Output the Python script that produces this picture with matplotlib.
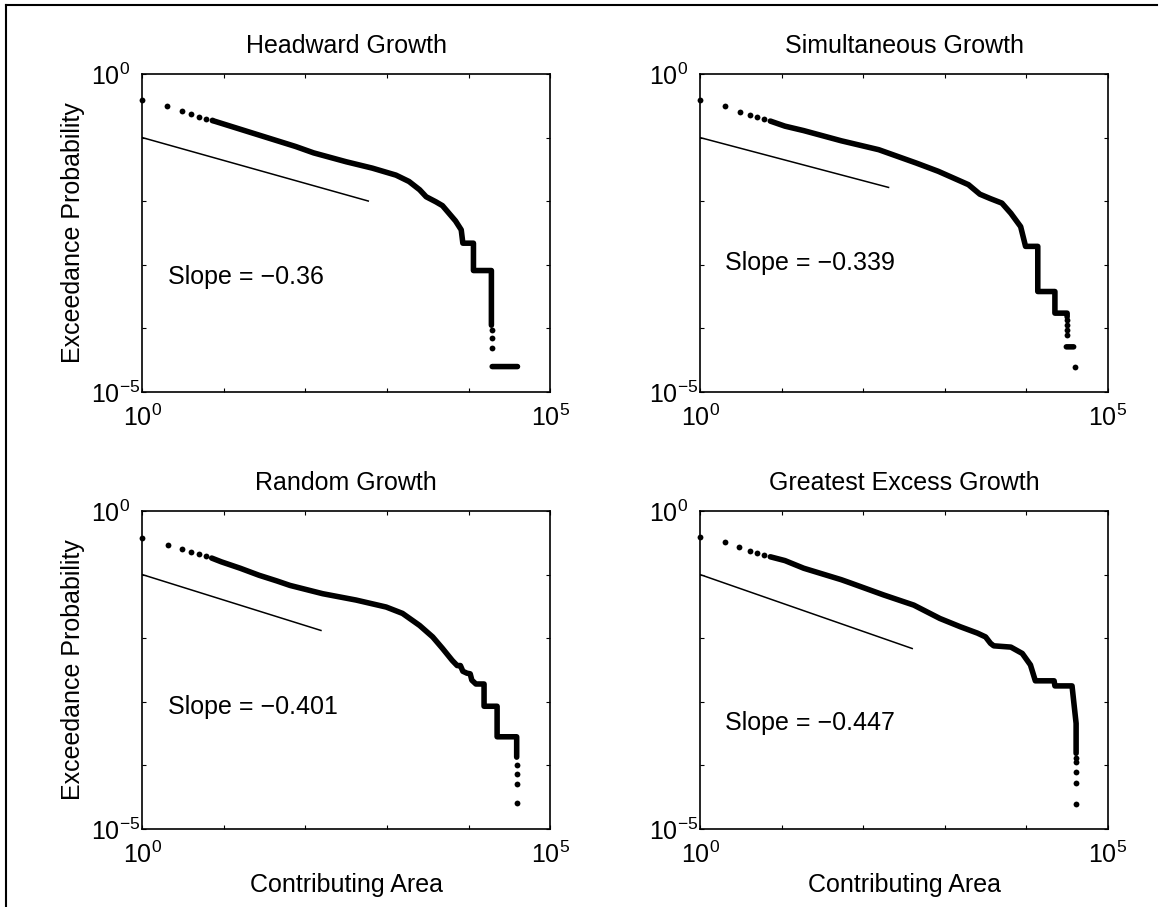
import matplotlib
matplotlib.use("Agg")
import matplotlib.pyplot as plt
import numpy as np
from matplotlib.lines import Line2D
from matplotlib.ticker import NullLocator

plt.rcParams["font.family"] = ["Liberation Sans", "DejaVu Sans"]
plt.rcParams["mathtext.fontset"] = "custom"
plt.rcParams["mathtext.rm"] = "Liberation Sans"
plt.rcParams["mathtext.it"] = "Liberation Sans:italic"
plt.rcParams["mathtext.default"] = "regular"

# all values are log10(area) / log10(probability)
titles = ["Headward Growth", "Simultaneous Growth", "Random Growth", "Greatest Excess Growth"]
slopes = [-0.36, -0.339, -0.401, -0.447]
slope_labels = ["Slope = \u22120.36", "Slope = \u22120.339", "Slope = \u22120.401", "Slope = \u22120.447"]
fit_start_log_prob = [-1.0, -1.0, -1.0, -1.0]
fit_end_log_area = [2.77, 2.31, 2.19, 2.60]

# headward growth
headward_dots_area = [0, 0.30, 0.48, 0.60, 0.70, 0.78, 0.85, 4.29, 4.29, 4.29]
headward_dots_prob = [-0.41, -0.51, -0.58, -0.63, -0.67, -0.70, -0.72, -4.03, -4.15, -4.31]
headward_curve_area = [0.88, 1.43, 1.88, 2.10, 2.50, 2.82, 3.11, 3.27, 3.40, 3.48, 3.60, 3.68, 3.76,
                       3.84, 3.91, 3.93, 4.06, 4.06, 4.28, 4.28, np.nan, 4.29, 4.60]
headward_curve_prob = [-0.74, -0.96, -1.14, -1.24, -1.38, -1.48, -1.59, -1.69, -1.82, -1.93, -2.01, -2.07, -2.19,
                       -2.31, -2.45, -2.66, -2.66, -3.09, -3.09, -3.95, np.nan, -4.60, -4.60]

# simultaneous growth
simultaneous_dots_area = [0, 0.31, 0.49, 0.61, 0.70, 0.78, 4.50, 4.50, 4.50, 4.50, 4.60]
simultaneous_dots_prob = [-0.41, -0.51, -0.59, -0.64, -0.68, -0.71, -3.86, -3.94, -4.02, -4.10, -4.61]
simultaneous_curve_area = [0.86, 1.04, 1.27, 1.73, 2.19, 2.65, 2.92, 3.29, 3.43, 3.56, 3.70, 3.81, 3.93,
                           3.99, 4.14, 4.14, 4.35, 4.35, 4.50, 4.50, np.nan, 4.49, 4.58]
simultaneous_curve_prob = [-0.74, -0.82, -0.89, -1.05, -1.19, -1.40, -1.53, -1.74, -1.89, -1.96, -2.03, -2.19, -2.40,
                           -2.71, -2.71, -3.42, -3.42, -3.76, -3.76, -3.82, np.nan, -4.29, -4.29]

# random growth
random_dots_area = [0, 0.32, 0.48, 0.60, 0.70, 0.78, 4.59, 4.59, 4.59, 4.59]
random_dots_prob = [-0.43, -0.53, -0.59, -0.64, -0.68, -0.71, -4.00, -4.13, -4.29, -4.59]
random_curve_area = [0.85, 0.97, 1.20, 1.43, 1.65, 1.81, 2.21, 2.62, 2.99, 3.19, 3.40, 3.56, 3.68, 3.80,
                     3.86, 3.90, 3.93, 3.98, 4.02, 4.04, 4.09, 4.19, 4.19, 4.35, 4.35, 4.59, 4.59]
random_curve_prob = [-0.74, -0.80, -0.90, -1.01, -1.10, -1.17, -1.30, -1.40, -1.51, -1.61, -1.80, -1.98, -2.16, -2.35,
                     -2.43, -2.43, -2.52, -2.55, -2.56, -2.66, -2.72, -2.72, -3.07, -3.07, -3.55, -3.55, -3.87]

# greatest excess growth
excess_dots_area = [0, 0.31, 0.48, 0.61, 0.70, 0.78, 4.61, 4.61, 4.61, 4.61, 4.61]
excess_dots_prob = [-0.41, -0.49, -0.57, -0.63, -0.66, -0.69, -3.88, -3.94, -4.11, -4.28, -4.60]
excess_curve_area = [0.86, 1.04, 1.27, 1.73, 1.84, 2.25, 2.62, 2.94, 3.19, 3.40, 3.50, 3.56, 3.60, 3.81,
                     3.95, 4.05, 4.11, 4.34, 4.35, 4.56, 4.61, 4.61]
excess_curve_prob = [-0.72, -0.78, -0.90, -1.08, -1.13, -1.32, -1.48, -1.69, -1.82, -1.92, -1.98, -2.08, -2.12, -2.14,
                     -2.24, -2.42, -2.67, -2.67, -2.75, -2.75, -3.34, -3.81]

dots_area = [headward_dots_area, simultaneous_dots_area, random_dots_area, excess_dots_area]
dots_prob = [headward_dots_prob, simultaneous_dots_prob, random_dots_prob, excess_dots_prob]
curve_area = [headward_curve_area, simultaneous_curve_area, random_curve_area, excess_curve_area]
curve_prob = [headward_curve_prob, simultaneous_curve_prob, random_curve_prob, excess_curve_prob]

label_pos = [(0.063, 0.362), (0.062, 0.406), (0.063, 0.384), (0.062, 0.332)]

fig = plt.figure(figsize=(11.65, 9.07), dpi=100)

lefts = [0.1222, 0.6010, 0.1222, 0.6010]
bottoms = [0.5678, 0.5678, 0.0860, 0.0860]
width = 0.350
height = 0.3506

for i in range(4):
    ax = fig.add_axes([lefts[i], bottoms[i], width, height])
    ax.set_xscale("log")
    ax.set_yscale("log")

    ax.plot(10 ** np.array(curve_area[i]), 10 ** np.array(curve_prob[i]),
            color="black", lw=4.0, solid_capstyle="round", solid_joinstyle="round")
    ax.plot(10 ** np.array(dots_area[i]), 10 ** np.array(dots_prob[i]), "o",
            color="black", ms=4.2, mew=0, clip_on=False)

    # fitted power law line
    fit_a = np.array([1.0, 10 ** fit_end_log_area[i]])
    fit_p = 10 ** fit_start_log_prob[i] * fit_a ** slopes[i]
    ax.plot(fit_a, fit_p, color="black", lw=1.1)

    ax.text(label_pos[i][0], label_pos[i][1], slope_labels[i], transform=ax.transAxes,
            ha="left", va="center", fontsize=18)

    ax.set_xlim(1, 1e5)
    ax.set_ylim(1e-5, 1)
    ax.set_xticks([1e0, 1e1, 1e2, 1e3, 1e4, 1e5])
    ax.set_xticklabels(["$10^{0}$", "", "", "", "", "$10^{5}$"])
    ax.set_yticks([1e-5, 1e-4, 1e-3, 1e-2, 1e-1, 1e0])
    ax.set_yticklabels(["$10^{-5}$", "", "", "", "", "$10^{0}$"])
    ax.xaxis.set_minor_locator(NullLocator())
    ax.yaxis.set_minor_locator(NullLocator())
    ax.tick_params(direction="in", top=True, right=True, length=3, width=0.8, labelsize=18)
    ax.tick_params(axis="x", pad=9)
    # matlab style: the "10" of each y label starts at the same x
    ax.tick_params(axis="y", pad=37)
    for lab in ax.get_yticklabels():
        lab.set_horizontalalignment("left")
    for sp in ax.spines.values():
        sp.set_linewidth(1.2)

    ax.set_title(titles[i], fontsize=18, pad=15)

    if i % 2 == 0:
        ax.set_ylabel("Exceedance Probability", fontsize=18)
        ax.yaxis.set_label_coords(-0.141, 0.5)
    if i >= 2:
        ax.set_xlabel("Contributing Area", fontsize=18)
        ax.xaxis.set_label_coords(0.5, -0.138)

# frame lines at the top and left edge of the scan
fig.add_artist(Line2D([0.00515, 0.993], [0.9945, 0.9945], color="black", lw=1.5))
fig.add_artist(Line2D([0.00515, 0.00515], [0.0, 0.9945], color="black", lw=1.5))

fig.savefig("out.png", dpi=100)
